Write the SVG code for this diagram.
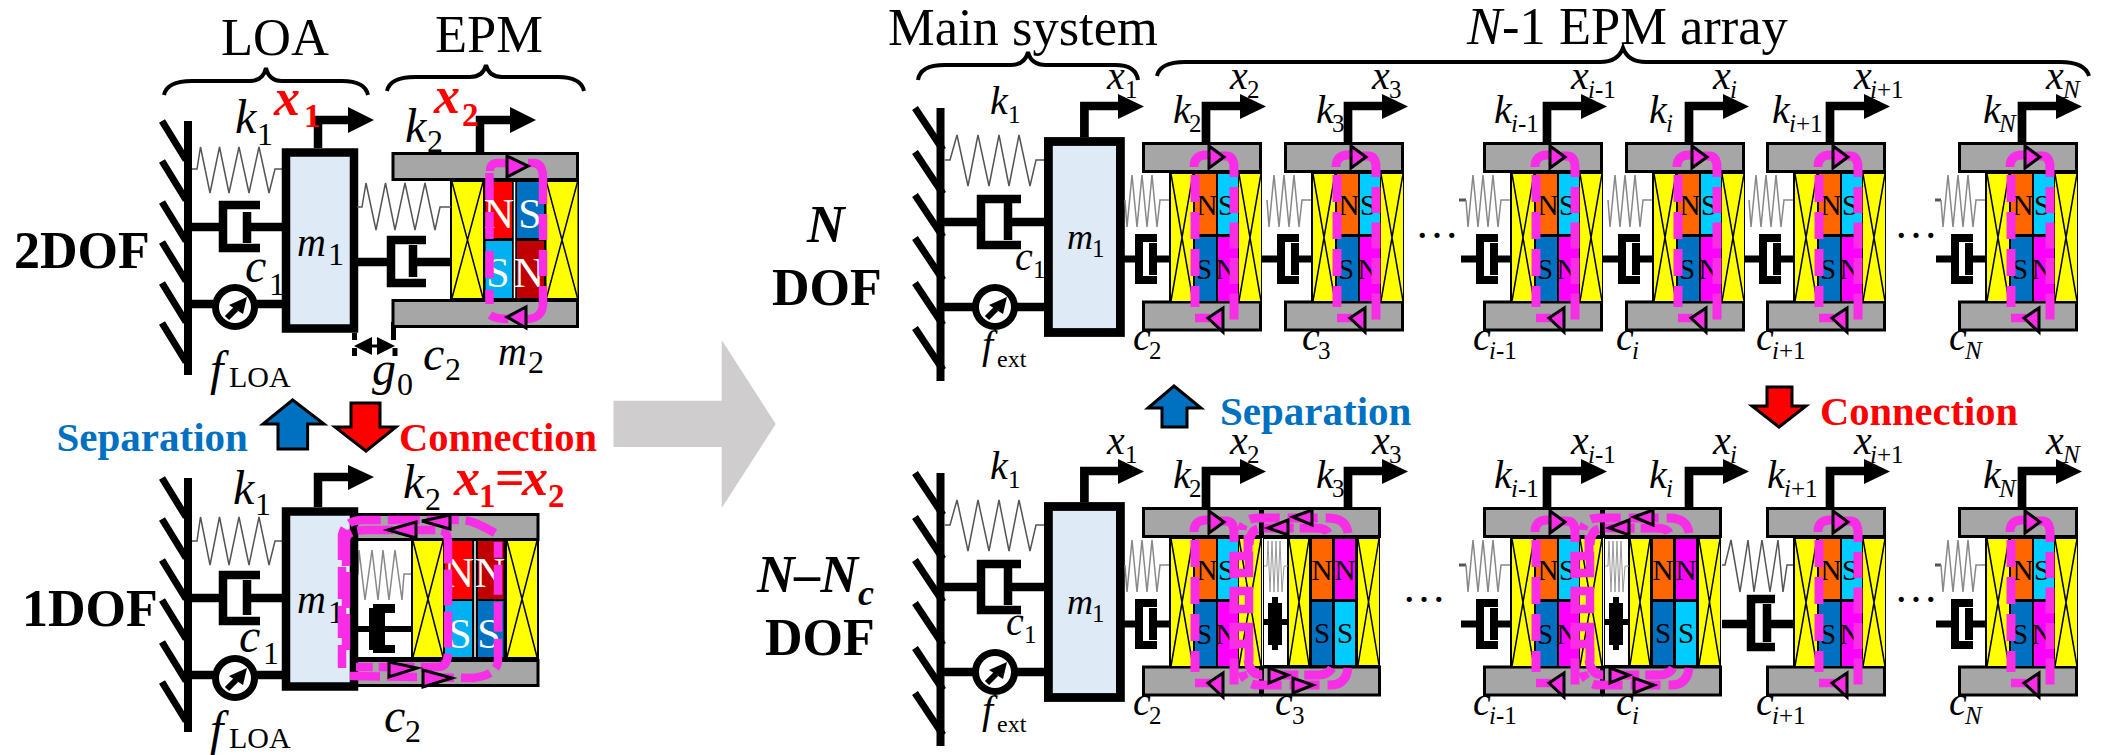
<svg xmlns="http://www.w3.org/2000/svg" width="2112" height="755" viewBox="0 0 2112 755">
<style>
text{font-family:"Liberation Serif","Times New Roman",serif;fill:#000}
.l{font-style:italic;font-size:40px}
.s{font-style:normal;font-size:25px}
.si{font-style:italic;font-size:25px}
.L{font-style:italic;font-size:48px}
.S{font-style:normal;font-size:32px}
.t{font-size:52.500px}
.b{font-size:52px;font-weight:bold}
.bi{font-size:52px;font-weight:bold;font-style:italic}
.rx{font-size:52px;font-weight:bold;font-style:italic;fill:#f00}
.rs{font-size:33px;font-weight:bold;font-style:normal;fill:#f00}
.sep{font-size:41px;font-weight:bold;fill:#0070C0}
.con{font-size:40.500px;font-weight:bold;fill:#f00}
.mk{font-size:29px;text-anchor:middle}
.mw{font-size:42px;text-anchor:middle;fill:#fff}
.dots{font-size:44px}
.w{stroke:#000;stroke-width:8;fill:none}
.h{stroke:#000;stroke-width:7;fill:none}
.bar{stroke:#000;stroke-width:8.500;fill:none}
.thin{stroke:#555;stroke-width:1.500;fill:none}
.thing{stroke:#888;stroke-width:1.500;fill:none}
.brace{stroke:#000;stroke-width:4;fill:none}
.plate{fill:#A6A6A6;stroke:#000;stroke-width:3}
.coil{fill:#FF0;stroke:none}
.x{stroke:#000;stroke-width:1.500;fill:none}
.flux{stroke:#F92DE6;stroke-width:9;fill:none}
.fl{stroke:#F92DE6;stroke-width:8.500;fill:none}
.tri{fill:#F92DE6;stroke:#000;stroke-width:3}
.mass{fill:#DEEAF6;stroke:#000}
</style>
<defs>
<g id="xarrow"><path d="M64 143V106H100" stroke="#000" stroke-width="8.700" fill="none"/><path d="M98 94L124 106.500L98 119Z" fill="#000"/></g>
<g id="act"><circle r="19.500" fill="#fff" stroke="#000" stroke-width="7"/><path d="M12 -10L-6 -2L8 7Z" fill="#000"/><path d="M1 2L-8 11" stroke="#000" stroke-width="6"/></g>
<g id="epm">
<rect x="1.500" y="143.500" width="117" height="28" class="plate"/>
<rect x="1.500" y="302" width="117" height="28" class="plate"/>
<rect x="27" y="172" width="93" height="131" fill="#000"/>
<rect x="29" y="174" width="22" height="127" class="coil"/>
<path d="M29 174L51 301M51 174L29 301" class="x"/>
<rect x="97" y="174" width="22" height="127" class="coil"/>
<path d="M97 174L119 301M119 174L97 301" class="x"/>
<rect x="53" y="174" width="21" height="60" fill="#F60"/>
<rect x="76" y="174" width="20" height="60" fill="#0CF"/>
<rect x="53" y="237" width="21" height="64" fill="#0070C0"/>
<rect x="76" y="237" width="20" height="64" fill="#F0F"/>
</g>
<g id="flux">
<path d="M53 175V307" class="flux" stroke-dasharray="27 10"/>
<path d="M92 187V320" class="flux" stroke-dasharray="26 9.500"/>
<path d="M52 167Q52 155 64 155H72M78 156H84Q92 156 92 168V177" class="flux"/>
<path d="M53 318H68" class="fl"/>
<path d="M67 146L82 157L67 168Z" class="tri"/>
<path d="M66 318L81 308V332Z" class="tri"/>
</g>
<g id="spr"><path d="M-17 200L-15 227L-10 175L-5 227L0 175L5 227L10 175L15 227L18 200H28" class="thing"/></g>
<g id="dmp"><path d="M-22 259H-4M8 259H28" stroke="#000" stroke-width="7" fill="none"/><path d="M15 238H-3V280H15M11 243V275" stroke="#000" stroke-width="8" fill="none"/></g>
<g id="mainsys">
<path d="M940.500 108V381" class="w"/>
<path d="M915 108L943 150M915 152L943 194M915 195L943 237M915 238L943 280M915 283L943 325M915 328L943 370" class="h"/>
<path d="M945 160H950L957 135L968 186L978 135L989 186L999 135L1009 186L1019 135L1030 186L1036 160H1044" class="thin"/>
<path d="M940 222H981M1008 222H1044M1021 199H981V245H1021M1008 203V240" class="bar"/>
<path d="M940 307H975M1015 307H1044" class="bar"/>
<use href="#act" x="995" y="307"/>
<rect x="1048.400" y="141.500" width="72" height="191" class="mass" stroke-width="8.800"/>
<path d="M1084.400 137V106H1120" stroke="#000" stroke-width="8.700" fill="none"/>
<path d="M1118 94L1144 106.500L1118 119Z" fill="#000"/>
</g>
<g id="merged">
<rect x="1262.500" y="508.500" width="117" height="28" class="plate"/>
<rect x="1262.500" y="667" width="117" height="28" class="plate"/>
<rect x="1263" y="537" width="117" height="130" fill="#000"/>
<rect x="1264" y="539" width="23" height="126" fill="#fff"/>
<path d="M1264 566H1267L1268 541L1270 592L1272 541L1274 592L1276 541L1278 592L1280 541L1282 592L1284 566H1288" stroke="#999" stroke-width="1" fill="none"/>
<path d="M1263 622H1287" stroke="#000" stroke-width="6"/>
<rect x="1272" y="597" width="6" height="53" fill="#000"/><rect x="1268" y="603" width="14" height="42" fill="#000"/>
<rect x="1289" y="539" width="20" height="126" class="coil"/><path d="M1289 539L1309 665M1309 539L1289 665" class="x"/>
<rect x="1358" y="539" width="21" height="126" class="coil"/><path d="M1358 539L1379 665M1379 539L1358 665" class="x"/>
<rect x="1312" y="539" width="20" height="60" fill="#F60"/>
<rect x="1335" y="539" width="20" height="60" fill="#F0F"/>
<rect x="1312" y="602" width="20" height="63" fill="#0070C0"/>
<rect x="1335" y="602" width="20" height="63" fill="#0CF"/>
</g>
<g id="mflux">
<path d="M1348 533Q1346 518 1328 518H1258Q1243 518 1242 530" class="flux" stroke-dasharray="30 8"/>
<path d="M1328 533Q1326 528 1315 528H1262Q1250 528 1249 545" class="flux" stroke-dasharray="30 6"/>
<path d="M1348 668Q1346 685 1330 685H1258Q1245 685 1242 672" class="flux" stroke-dasharray="30 8"/>
<path d="M1332 668Q1328 675 1318 675H1262Q1250 675 1248 660" class="flux" stroke-dasharray="30 6"/>
<path d="M1248 535V552M1249 648V662" class="flux"/>
<rect x="1234" y="556" width="15" height="17" class="fl"/>
<rect x="1234" y="591" width="15" height="18" class="fl"/>
<rect x="1234" y="627" width="15" height="17" class="fl"/>
<path d="M1268 528L1288 520V535Z" class="tri"/>
<path d="M1293 517L1312 510V525Z" class="tri"/>
<path d="M1269 668V683L1288 675Z" class="tri"/>
<path d="M1293 678V693L1313 685Z" class="tri"/>
</g>
</defs>
<rect width="2112" height="755" fill="#fff"/>

<g id="titles">
<text class="t" x="221" y="55">LOA</text>
<text class="t" x="435" y="52">EPM</text>
<text class="t" x="888" y="45">Main system</text>
<text class="t" x="1467" y="44"><tspan font-style="italic">N</tspan>-1 EPM array</text>
<text class="b" x="14" y="268">2DOF</text>
<text class="b" x="22" y="626">1DOF</text>
<text class="bi" x="807" y="242">N</text>
<text class="b" x="772" y="305">DOF</text>
<text class="bi" x="757" y="592">N–N<tspan font-size="36" y="605">c</tspan></text>
<text class="b" x="765" y="655">DOF</text>
<text class="sep" x="56.500" y="451">Separation</text>
<text class="con" x="399" y="451">Connection</text>
<text class="sep" x="1220" y="425">Separation</text>
<text class="con" x="1820" y="425">Connection</text>
</g>

<g id="connectors">
<path d="M164 95Q167 81 192 81H250Q263 81 266 68Q269 81 282 81H342Q365 81 368 95" class="brace"/>
<path d="M387 91Q390 77 415 77H470Q483 77 486 65Q489 77 502 77H558Q581 77 584 91" class="brace"/>
<path d="M918 80Q920 65 945 65H1010Q1025 65 1028 52Q1031 65 1046 65H1115Q1136 65 1138 80" class="brace"/>
<path d="M1157 76Q1160 62 1185 62H1600Q1618 62 1623 48Q1628 62 1646 62H2060Q2085 62 2089 76" class="brace"/>
<path d="M613.500 400.700H721.700V340L775.700 424L721.700 508V447H613.500Z" fill="#CFCDCE"/>
<path d="M292.600 400L324 424H307.600V449H278V424H263Z" fill="#0070C0" stroke="#000" stroke-width="3"/>
<path d="M351 403H380V427H396L366 451L335 427H351Z" fill="#f00" stroke="#000" stroke-width="3"/>
<path d="M1174 386L1201 408H1187V427H1162V408H1148Z" fill="#0070C0" stroke="#000" stroke-width="3"/>
<path d="M1767 387H1792V406H1806L1779 427L1752 406H1767Z" fill="#f00" stroke="#000" stroke-width="3"/>
</g>

<g id="twodof">
<path d="M188 121V375" class="w"/>
<path d="M162 121L186 160M162 161L186 200M162 202L186 241M162 242L186 281M162 283L186 322M162 323L186 362" class="h"/>
<path d="M192 169H197L200.500 147L210 193L219.500 147L229 193L239 147L249 193L259 147L269 193L275 169H285" class="thin"/>
<path d="M188 227H223M247 227H285M260 205H223V248H260M247 212V243" class="bar"/>
<path d="M188 304H213M257 304H285" class="bar"/>
<use href="#act" x="235" y="307"/>
<path d="M318 148V120H350" stroke="#000" stroke-width="8.500" fill="none"/><path d="M348 107L374 120L348 133Z" fill="#000"/>
<rect x="286" y="152.500" width="68" height="176" class="mass" stroke-width="8.500"/>
<path d="M354.500 333V340M354.500 348V356M393.500 322V340M395 348V356" stroke="#000" stroke-width="5"/>
<path d="M354 346L372 337V355ZM395 346L377 337V355Z" fill="#000"/><path d="M360 346H390" stroke="#000" stroke-width="3"/>
<rect x="393" y="153.500" width="184.500" height="26" class="plate"/>
<rect x="393" y="300.500" width="184.500" height="26" class="plate"/>
<rect x="450" y="180" width="129" height="120" fill="#000"/>
<rect x="452" y="182" width="31" height="116" class="coil"/><path d="M452 182L483 298M483 182L452 298" class="x"/>
<rect x="546.500" y="182" width="31" height="116" class="coil"/><path d="M546.500 182L577.500 298M577.500 182L546.500 298" class="x"/>
<rect x="485.500" y="182" width="26.500" height="56" fill="#f00"/>
<rect x="517" y="182" width="27" height="56" fill="#0070C0"/>
<rect x="485.500" y="241" width="26.500" height="57" fill="#00B0F0"/>
<rect x="517" y="241" width="27" height="57" fill="#C00000"/>
<path d="M514.500 182V298" stroke="#fff" stroke-width="1.500"/>
<path d="M357 207H362L366 183L376 230L385.500 183L395 230L405 183L415 230L425 183L435 230L440 207H451" class="thin"/>
<path d="M357 262H391M413 262H451M426 240H391V283H426M413 245V277" class="bar"/>
<path d="M480 153V120H512" stroke="#000" stroke-width="8.500" fill="none"/><path d="M510 107L536 120L510 133Z" fill="#000"/>
<text class="mw" x="499" y="228">N</text><text class="mw" x="530" y="228">S</text><text class="mw" x="498" y="287">S</text><text class="mw" x="529" y="287">N</text>
<path d="M489.500 173V304" class="fl" stroke-dasharray="27 12"/>
<path d="M543 178V305" class="fl" stroke-dasharray="26 10"/>
<path d="M490 171Q490 163 498 163H508M528 163H533Q543 163 543 178M543 303Q543 319 526 319M490 315Q496 319 508 319" class="fl"/>
<path d="M507 156L528 166L507 177Z" class="tri"/>
<path d="M507 317L526 307V328Z" class="tri"/>
<text class="L" x="235" y="133">k<tspan class="S" x="257" y="145">1</tspan></text>
<text class="rx" x="274" y="115">x<tspan class="rs" x="304" y="127">1</tspan></text>
<text class="rx" x="434" y="113">x<tspan class="rs" x="462" y="126">2</tspan></text>
<text class="L" x="405" y="142">k<tspan class="S" x="427" y="152">2</tspan></text>
<text class="L" x="297" y="256" style="font-size:40px">m<tspan class="S" x="328" y="265">1</tspan></text>
<text class="L" x="245" y="282">c<tspan class="S" x="269" y="295">1</tspan></text>
<text class="L" x="210" y="385">f<tspan class="S" x="229" y="387" style="font-size:30px">LOA</tspan></text>
<text class="L" x="372" y="385">g<tspan class="S" x="397" y="395">0</tspan></text>
<text class="L" x="423" y="370">c<tspan class="S" x="445" y="380">2</tspan></text>
<text class="L" x="498" y="365" style="font-size:40px">m<tspan class="S" x="528" y="373">2</tspan></text>
</g>

<g id="onedof">
<path d="M188 478V732" class="w"/>
<path d="M162 478L186 517M162 519L186 558M162 560L186 599M162 600L186 639M162 642L186 681M162 682L186 721" class="h"/>
<path d="M192 541H197L200.500 517L210 565L219.500 517L229 565L239 517L249 565L259 517L269 565L275 541H285" class="thin"/>
<path d="M188 598H223M247 598H285M260 575H223V621H260M247 580V615" class="bar"/>
<path d="M188 675H213M257 675H285" class="bar"/>
<use href="#act" x="235" y="678"/>
<path d="M318 507V477H350" stroke="#000" stroke-width="8.500" fill="none"/><path d="M348 465L374 477L348 490Z" fill="#000"/>
<rect x="354" y="514.500" width="184" height="25" class="plate"/>
<rect x="354" y="660.500" width="184" height="25" class="plate"/>
<rect x="354" y="539" width="185" height="121" fill="#000"/>
<rect x="356" y="541" width="55" height="116" fill="#fff"/>
<path d="M356 574H358L359 550L365 600L372 550L378 600L383 550L389 600L395 550L402 600L404 574H411" class="thing"/>
<path d="M356 629H411" stroke="#000" stroke-width="6"/>
<path d="M373 604H395V613H385V645H395V653H373V650H369V608H373Z" fill="#000"/>
<rect x="413" y="541" width="30" height="116" class="coil"/><path d="M413 541L443 657M443 541L413 657" class="x"/>
<rect x="507" y="541" width="30" height="116" class="coil"/><path d="M507 541L537 657M537 541L507 657" class="x"/>
<rect x="445" y="541" width="27" height="58" fill="#f00"/>
<rect x="478" y="541" width="25.500" height="58" fill="#C00000"/>
<rect x="445" y="601" width="27" height="56" fill="#00B0F0"/>
<rect x="478" y="601" width="25.500" height="56" fill="#0070C0"/>
<path d="M475 541V657" stroke="#fff" stroke-width="1.500"/>
<rect x="286" y="511.500" width="68" height="175" class="mass" stroke-width="8.500"/>
<text class="mw" x="459" y="587">N</text><text class="mw" x="490" y="587">N</text><text class="mw" x="460" y="648">S</text><text class="mw" x="489" y="648">S</text>
<text class="L" x="297" y="613" style="font-size:40px">m<tspan class="S" x="328" y="623">1</tspan></text>
<path d="M495 533Q473 520 463 520H363Q345 520 342 535V668" class="fl" stroke-dasharray="32 7"/>
<path d="M350 676L473 678Q498 675 498 660V542" class="fl" stroke-dasharray="30 7"/>
<path d="M346 650V540Q346 530 367 530H438Q448 530 448 542V652Q448 667 438 667H356" class="fl" stroke-dasharray="36 6"/>
<path d="M422 521L450 515V529Z" class="tri"/>
<path d="M388 530L416 522V538Z" class="tri"/>
<path d="M389 662V677L417 668Z" class="tri"/>
<path d="M423 670V687L452 678Z" class="tri"/>
<text class="L" x="233" y="504">k<tspan class="S" x="255" y="515">1</tspan></text>
<text class="L" x="403" y="498">k<tspan class="S" x="425" y="510">2</tspan></text>
<text class="rx" x="454" y="495">x<tspan class="rs" x="479" y="507">1</tspan><tspan font-style="normal" x="495" y="495">=</tspan><tspan x="522" y="495">x</tspan><tspan class="rs" x="548" y="507">2</tspan></text>
<text class="L" x="239" y="652">c<tspan class="S" x="263" y="664">1</tspan></text>
<text class="L" x="210" y="745">f<tspan class="S" x="229" y="748" style="font-size:30px">LOA</tspan></text>
<text class="L" x="384" y="732">c<tspan class="S" x="405" y="742">2</tspan></text>
</g>

<g id="ndof-main"><use href="#mainsys"/>
<text class="l" x="990" y="114">k<tspan class="s" x="1008" y="123">1</tspan></text>
<text class="l" x="1107" y="89">x<tspan class="s" x="1125" y="98">1</tspan></text>
<text class="l" x="1067" y="249" style="font-size:36px">m<tspan class="s" x="1092" y="257">1</tspan></text>
<text class="l" x="1015" y="270">c<tspan class="s" x="1033" y="278">1</tspan></text>
<text class="l" x="982" y="358">f<tspan class="s" x="997" y="367" style="font-size:24px">ext</tspan></text>
</g>

<g id="ndof-u2" transform="translate(1142,0)"><use href="#spr"/><use href="#dmp"/><use href="#epm"/><use href="#xarrow"/>
<text class="mk" x="65" y="215">N</text><text class="mk" x="84" y="215">S</text><text class="mk" x="62" y="279">S</text><text class="mk" x="84" y="279">N</text><use href="#flux"/>
<text class="l" x="88" y="89">x<tspan class="s" x="105" y="98">2</tspan></text>
<text class="l" x="31" y="123">k<tspan class="s" x="47" y="132">2</tspan></text>
<text class="l" x="-9" y="350">c<tspan class="s" x="7" y="359">2</tspan></text></g>
<g id="ndof-u3" transform="translate(1284,0)"><use href="#spr"/><use href="#dmp"/><use href="#epm"/><use href="#xarrow"/>
<text class="mk" x="65" y="215">N</text><text class="mk" x="84" y="215">S</text><text class="mk" x="62" y="279">S</text><text class="mk" x="84" y="279">N</text><use href="#flux"/>
<text class="l" x="88" y="89">x<tspan class="s" x="105" y="98">3</tspan></text>
<text class="l" x="32" y="123">k<tspan class="s" x="48" y="132">3</tspan></text>
<text class="l" x="18" y="350">c<tspan class="s" x="34" y="359">3</tspan></text></g>
<text class="dots" x="1415" y="238">…</text>
<g id="ndof-uim1" transform="translate(1483,0)"><path d="M-24 200H-17" stroke="#555" stroke-width="3"/><use href="#spr"/><use href="#dmp"/><use href="#epm"/><use href="#xarrow"/>
<text class="mk" x="65" y="215">N</text><text class="mk" x="84" y="215">S</text><text class="mk" x="62" y="279">S</text><text class="mk" x="84" y="279">N</text><use href="#flux"/>
<text class="l" x="88" y="89">x<tspan class="si" x="105" y="98">i</tspan><tspan class="s">-1</tspan></text>
<text class="l" x="11" y="123">k<tspan class="si" x="28" y="132">i</tspan><tspan class="s">-1</tspan></text>
<text class="l" x="-10" y="350">c<tspan class="si" x="6" y="359">i</tspan><tspan class="s">-1</tspan></text></g>
<g id="ndof-ui" transform="translate(1625,0)"><use href="#spr"/><use href="#dmp"/><use href="#epm"/><use href="#xarrow"/>
<text class="mk" x="65" y="215">N</text><text class="mk" x="84" y="215">S</text><text class="mk" x="62" y="279">S</text><text class="mk" x="84" y="279">N</text><use href="#flux"/>
<text class="l" x="88" y="89">x<tspan class="si" x="105" y="98">i</tspan></text>
<text class="l" x="24" y="123">k<tspan class="si" x="41" y="132">i</tspan></text>
<text class="l" x="-9" y="350">c<tspan class="si" x="7" y="359">i</tspan></text></g>
<g id="ndof-uip1" transform="translate(1766,0)"><use href="#spr"/><use href="#dmp"/><use href="#epm"/><use href="#xarrow"/>
<text class="mk" x="65" y="215">N</text><text class="mk" x="84" y="215">S</text><text class="mk" x="62" y="279">S</text><text class="mk" x="84" y="279">N</text><use href="#flux"/>
<text class="l" x="88" y="89">x<tspan class="si" x="104" y="98">i</tspan><tspan class="s">+1</tspan></text>
<text class="l" x="6" y="123">k<tspan class="si" x="23" y="132">i</tspan><tspan class="s">+1</tspan></text>
<text class="l" x="-10" y="350">c<tspan class="si" x="6" y="359">i</tspan><tspan class="s">+1</tspan></text></g>
<text class="dots" x="1894" y="238">…</text>
<g id="ndof-uN" transform="translate(1958,0)"><path d="M-23 200H-17" stroke="#555" stroke-width="3"/><use href="#spr"/><use href="#dmp"/><use href="#epm"/><use href="#xarrow"/>
<text class="mk" x="65" y="215">N</text><text class="mk" x="84" y="215">S</text><text class="mk" x="62" y="279">S</text><text class="mk" x="84" y="279">N</text><use href="#flux"/>
<text class="l" x="88" y="89">x<tspan class="si" x="105" y="98">N</tspan></text>
<text class="l" x="25" y="123">k<tspan class="si" x="41" y="132">N</tspan></text>
<text class="l" x="-9" y="350">c<tspan class="si" x="7" y="359">N</tspan></text></g>

<g id="nnc-main" transform="translate(0,365)"><use href="#mainsys"/>
<text class="l" x="990" y="114">k<tspan class="s" x="1008" y="123">1</tspan></text>
<text class="l" x="1107" y="89">x<tspan class="s" x="1125" y="98">1</tspan></text>
<text class="l" x="1067" y="249" style="font-size:36px">m<tspan class="s" x="1092" y="257">1</tspan></text>
<text class="l" x="1006" y="270">c<tspan class="s" x="1024" y="278">1</tspan></text>
<text class="l" x="982" y="358">f<tspan class="s" x="997" y="367" style="font-size:24px">ext</tspan></text>
</g>

<g id="nnc-pair1">
<g transform="translate(1142,365)"><use href="#spr"/><use href="#dmp"/><use href="#epm"/><use href="#xarrow"/>
<text class="mk" x="65" y="215">N</text><text class="mk" x="84" y="215">S</text><text class="mk" x="62" y="279">S</text><text class="mk" x="84" y="279">N</text></g>
<use href="#merged"/>
<text class="mk" x="1322" y="580">N</text><text class="mk" x="1345" y="580">N</text><text class="mk" x="1322" y="643">S</text><text class="mk" x="1345" y="643">S</text>
<use href="#xarrow" x="1284" y="365"/>
<use href="#flux" x="1142" y="365"/>
<use href="#mflux"/>
<text class="l" x="1230" y="454">x<tspan class="s" x="1247" y="463">2</tspan></text>
<text class="l" x="1173" y="488">k<tspan class="s" x="1189" y="497">2</tspan></text>
<text class="l" x="1133" y="715">c<tspan class="s" x="1149" y="724">2</tspan></text>
<text class="l" x="1372" y="454">x<tspan class="s" x="1389" y="463">3</tspan></text>
<text class="l" x="1316" y="488">k<tspan class="s" x="1332" y="497">3</tspan></text>
<text class="l" x="1275" y="715">c<tspan class="s" x="1292" y="724">3</tspan></text>
</g>
<text class="dots" x="1402" y="602">…</text>
<g id="nnc-pair2">
<g transform="translate(1483,365)"><path d="M-24 200H-17" stroke="#555" stroke-width="3"/><use href="#spr"/><use href="#dmp"/><use href="#epm"/><use href="#xarrow"/>
<text class="mk" x="65" y="215">N</text><text class="mk" x="84" y="215">S</text><text class="mk" x="62" y="279">S</text><text class="mk" x="84" y="279">N</text></g>
<g transform="translate(341,0)"><use href="#merged"/>
<text class="mk" x="1322" y="580">N</text><text class="mk" x="1345" y="580">N</text><text class="mk" x="1322" y="643">S</text><text class="mk" x="1345" y="643">S</text>
<use href="#xarrow" x="1284" y="365"/></g>
<use href="#flux" x="1483" y="365"/>
<g transform="translate(341,0)"><use href="#mflux"/></g>
<text class="l" x="1571" y="454">x<tspan class="si" x="1588" y="463">i</tspan><tspan class="s">-1</tspan></text>
<text class="l" x="1494" y="488">k<tspan class="si" x="1511" y="497">i</tspan><tspan class="s">-1</tspan></text>
<text class="l" x="1473" y="715">c<tspan class="si" x="1489" y="724">i</tspan><tspan class="s">-1</tspan></text>
<text class="l" x="1713" y="454">x<tspan class="si" x="1730" y="463">i</tspan></text>
<text class="l" x="1649" y="488">k<tspan class="si" x="1666" y="497">i</tspan></text>
<text class="l" x="1616" y="715">c<tspan class="si" x="1632" y="724">i</tspan></text>
</g>
<g id="nnc-uip1">
<path d="M1722 565H1725L1731 540L1740 592L1748 540L1754 592L1762 540L1770 592L1778 540L1783 592L1787 565H1794" class="thin"/>
<path d="M1722 624H1751M1767 624H1794M1775 599H1751V647H1775M1767 604V642" class="bar"/>
<g transform="translate(1766,365)"><use href="#epm"/><use href="#xarrow"/>
<text class="mk" x="65" y="215">N</text><text class="mk" x="84" y="215">S</text><text class="mk" x="62" y="279">S</text><text class="mk" x="84" y="279">N</text><use href="#flux"/>
<text class="l" x="88" y="89">x<tspan class="si" x="104" y="98">i</tspan><tspan class="s">+1</tspan></text>
<text class="l" x="1" y="123">k<tspan class="si" x="18" y="132">i</tspan><tspan class="s">+1</tspan></text>
<text class="l" x="-10" y="350">c<tspan class="si" x="6" y="359">i</tspan><tspan class="s">+1</tspan></text></g>
</g>
<text class="dots" x="1894" y="602">…</text>
<g id="nnc-uN" transform="translate(1958,365)"><path d="M-23 200H-17" stroke="#555" stroke-width="3"/><use href="#spr"/><use href="#dmp"/><use href="#epm"/><use href="#xarrow"/>
<text class="mk" x="65" y="215">N</text><text class="mk" x="84" y="215">S</text><text class="mk" x="62" y="279">S</text><text class="mk" x="84" y="279">N</text><use href="#flux"/>
<text class="l" x="88" y="89">x<tspan class="si" x="105" y="98">N</tspan></text>
<text class="l" x="25" y="123">k<tspan class="si" x="41" y="132">N</tspan></text>
<text class="l" x="-9" y="350">c<tspan class="si" x="7" y="359">N</tspan></text></g>
</svg>
